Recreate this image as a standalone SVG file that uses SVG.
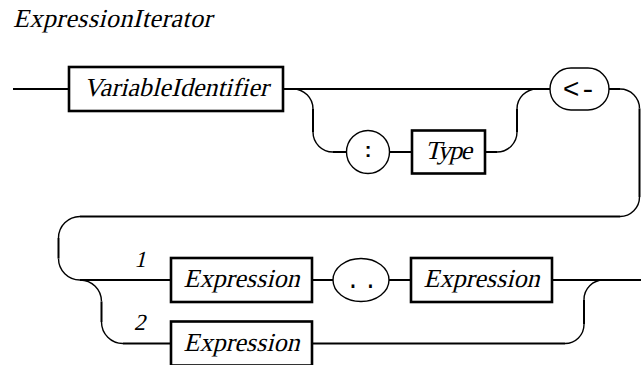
<svg xmlns="http://www.w3.org/2000/svg" width="641" height="365" viewBox="0 0 641 365">
<style>
.bg{fill:#fff}
.box{fill:#fff;stroke:#000;stroke-width:2.6}
.term{fill:#fff;stroke:#000;stroke-width:1.4}
.ln{fill:none;stroke:#000;stroke-width:2}
.arc{fill:none;stroke:#000;stroke-width:1.4}
.it{font-family:'Liberation Serif','Times New Roman',serif;font-size:26px;fill:#000}
.mid{text-anchor:middle}
.sym{font-family:'Liberation Mono','Courier New',monospace;font-size:24px;fill:#000}
.colon{font-family:'Liberation Sans',Arial,sans-serif;font-weight:bold;font-size:20px;fill:#000;text-anchor:middle}
</style>
<rect class="bg" x="0" y="0" width="641" height="365"/>
<text id="title" class="it" transform="translate(13,27) skewX(-14)" textLength="199" lengthAdjust="spacing">ExpressionIterator</text>
<g id="connectors">
<path class="ln" d="M13,89 H69 M283,89 H550 M313,109 V132 M333,152 H346.5 M389.5,152 H412 M485,152 H497 M517,132 V109 M609,89 H620 M639.5,108.5 V197 M620,216.5 H80 M58.5,238 V258.5 M80,280 H171 M101.5,301.5 V322 M123,343.5 H171 M312,280 H333 M389,280 H411 M552,280 H641 M312,343.5 H565 M584,324.5 V299.5"/>
<path class="arc" d="M293,89 A20,20 0 0 1 313,109 M313,132 A20,20 0 0 0 333,152 M497,152 A20,20 0 0 0 517,132 M517,109 A20,20 0 0 1 537,89 M620,89 A19.5,19.5 0 0 1 639.5,108.5 M639.5,197 A19.5,19.5 0 0 1 620,216.5 M80,216.5 A21.5,21.5 0 0 0 58.5,238 M58.5,258.5 A21.5,21.5 0 0 0 80,280 M80,280 A21.5,21.5 0 0 1 101.5,301.5 M101.5,322 A21.5,21.5 0 0 0 123,343.5 M565,343.5 A19,19 0 0 0 584,324.5 M584,299.5 A19.5,19.5 0 0 1 603.5,280"/>
<text class="it mid" transform="translate(140,266.5) skewX(-14)" style="font-size:23px">1</text>
<text class="it mid" transform="translate(139.5,330) skewX(-14)" style="font-size:23px">2</text>
</g>
<g id="variableIdentifier">
<rect class="box" x="69" y="67" width="214" height="44"/>
<text class="it mid" transform="translate(176,96) skewX(-14)" textLength="185" lengthAdjust="spacing">VariableIdentifier</text>
</g>
<g id="colon">
<circle class="term" cx="368" cy="152" r="21.5"/>
<text class="colon" x="368" y="157">:</text>
</g>
<g id="type">
<rect class="box" x="412" y="130.5" width="73" height="43"/>
<text class="it mid" transform="translate(448.5,159) skewX(-14)" textLength="47" lengthAdjust="spacing">Type</text>
</g>
<g id="arrow">
<rect class="term" x="550" y="68" width="59" height="42" rx="21" ry="21"/>
<text class="sym mid" x="579.5" y="97.5" style="font-size:28px">&lt;-</text>
</g>
<g id="expression1">
<rect class="box" x="171" y="258" width="141" height="44"/>
<text class="it mid" transform="translate(241.5,287) skewX(-14)" textLength="116" lengthAdjust="spacing">Expression</text>
</g>
<g id="dots">
<ellipse class="term" cx="361" cy="280" rx="28" ry="21.5"/>
<text class="sym" x="345.8" y="288" letter-spacing="3">..</text>
</g>
<g id="expression3">
<rect class="box" x="411" y="258" width="141" height="44"/>
<text class="it mid" transform="translate(481.5,287) skewX(-14)" textLength="116" lengthAdjust="spacing">Expression</text>
</g>
<g id="expression2">
<rect class="box" x="171" y="321.5" width="141" height="44"/>
<text class="it mid" transform="translate(241.5,350.5) skewX(-14)" textLength="116" lengthAdjust="spacing">Expression</text>
</g>
</svg>
